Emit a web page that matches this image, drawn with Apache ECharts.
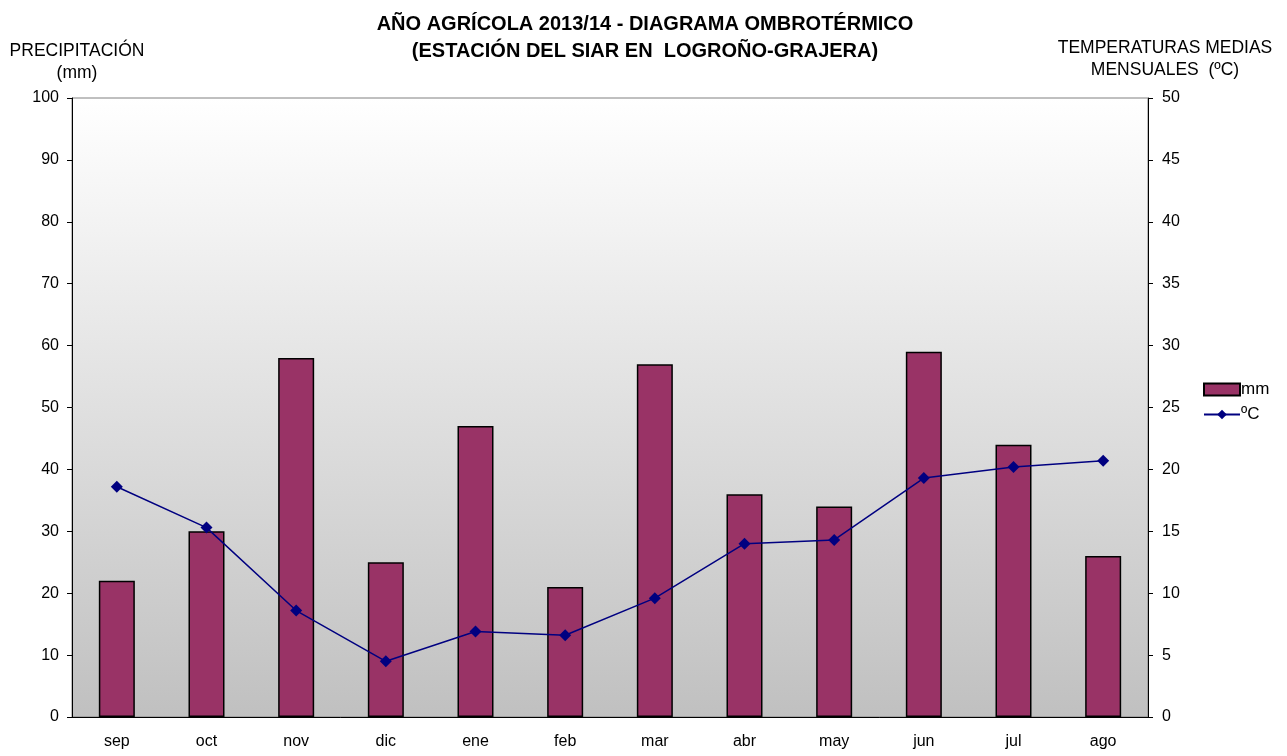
<!DOCTYPE html>
<html>
<head>
<meta charset="utf-8">
<script src="https://cdn.jsdelivr.net/npm/echarts@6/dist/echarts.min.js"></script>
<style>
  html, body { margin: 0; padding: 0; background: #fff; }
  .box { width: 1287px; height: 756px; }
</style>
</head>
<body>
<div class="box"></div>
<script>
// meses del año agrícola
var meses = ["sep", "oct", "nov", "dic", "ene", "feb", "mar", "abr", "may", "jun", "jul", "ago"];
// precipitación mensual (mm)
var precipitacion = [22, 30, 58, 25, 47, 21, 57, 36, 34, 59, 44, 26];
// temperatura media mensual (ºC)
var temperatura = [18.6, 15.3, 8.6, 4.5, 6.9, 6.6, 9.6, 14.0, 14.3, 19.3, 20.2, 20.7];

(function () {
    var myChart = echarts.init(document.querySelector(".box"));
    var fuente = "'Liberation Sans', Arial, sans-serif";

    var option = {
        animation: false,
        textStyle: { fontFamily: fuente },
        title: {
            text: "AÑO AGRÍCOLA 2013/14 - DIAGRAMA OMBROTÉRMICO\n(ESTACIÓN DEL SIAR EN  LOGROÑO-GRAJERA)",
            left: 640,
            top: 6,
            textAlign: "center",
            textStyle: { fontSize: 20, fontWeight: "bold", color: "#000", lineHeight: 27, fontFamily: fuente }
        },
        graphic: [
            {
                type: "text", x: 77, y: 40,
                style: { text: "PRECIPITACIÓN\n(mm)", fontSize: 17.5, lineHeight: 22, fill: "#000", align: "center", fontFamily: fuente }
            },
            {
                type: "text", x: 1165, y: 37,
                style: { text: "TEMPERATURAS MEDIAS\nMENSUALES  (ºC)", fontSize: 17.5, lineHeight: 22, fill: "#000", align: "center", fontFamily: fuente }
            }
        ],
        legend: {
            orient: "vertical",
            left: 1198,
            top: 376,
            itemWidth: 36,
            itemHeight: 12,
            itemGap: 8,
            textStyle: { fontSize: 17, color: "#000", padding: [0, 0, 0, -4] },
            data: [{ name: "mm", icon: "rect" }, { name: "ºC" }]
        },
        grid: {
            left: 72, right: 139, top: 98, bottom: 39,
            show: true,
            borderColor: "#808080",
            borderWidth: 1,
            backgroundColor: new echarts.graphic.LinearGradient(0, 0, 0, 1, [
                { offset: 0, color: "#ffffff" },
                { offset: 0.15, color: "#f6f6f6" },
                { offset: 1, color: "#c0c0c0" }
            ])
        },
        xAxis: {
            type: "category",
            data: meses,
            axisLine: { lineStyle: { color: "#000", width: 1 } },
            axisTick: { length: 6, lineStyle: { color: "#000" } },
            axisLabel: { color: "#000", fontSize: 16, margin: 17 }
        },
        yAxis: [
            {
                type: "value", min: 0, max: 100, interval: 10,
                axisLine: { show: true, lineStyle: { color: "#000" } },
                axisTick: { show: true, length: 5, lineStyle: { color: "#000" } },
                axisLabel: { color: "#000", fontSize: 16, margin: 13 },
                splitLine: { show: false }
            },
            {
                type: "value", min: 0, max: 50, interval: 5,
                axisLine: { show: true, lineStyle: { color: "#000" } },
                axisTick: { show: true, length: 5, lineStyle: { color: "#000" } },
                axisLabel: { color: "#000", fontSize: 16, margin: 14 },
                splitLine: { show: false }
            }
        ],
        series: [
            {
                name: "mm",
                type: "bar",
                yAxisIndex: 0,
                barWidth: 36,
                itemStyle: { color: "#993366", borderColor: "#000", borderWidth: 1.5 },
                data: precipitacion
            },
            {
                name: "ºC",
                type: "line",
                yAxisIndex: 1,
                symbol: "diamond",
                symbolSize: 12,
                lineStyle: { color: "#000080", width: 1.5 },
                itemStyle: { color: "#000080" },
                data: temperatura
            }
        ]
    };

    myChart.setOption(option);

    window.addEventListener("resize", function () {
        myChart.resize();
    });
})();
</script>
</body>
</html>
